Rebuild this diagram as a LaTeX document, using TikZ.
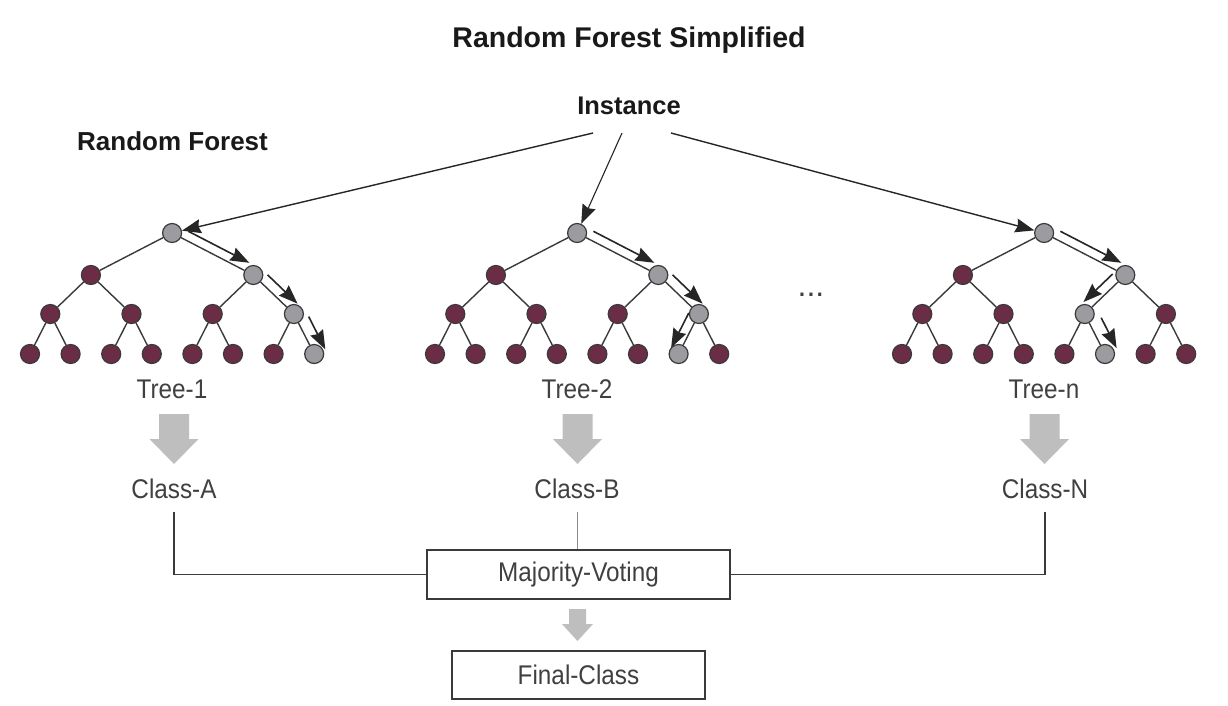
\documentclass[tikz,border=0pt]{standalone}
\usepackage{fontspec}
\setmainfont{Liberation Sans}
\newfontfamily\lightfont[FakeStretch=0.9]{Liberation Sans}
\usetikzlibrary{arrows.meta,calc}

\definecolor{maroon}{HTML}{6B2D45}
\definecolor{nodegrey}{HTML}{9C9CA0}
\definecolor{linegrey}{HTML}{3A3A3A}
\definecolor{fatgrey}{HTML}{BEBEBE}
\definecolor{txt}{HTML}{404040}

\tikzset{
  treenode/.style={circle, draw=linegrey, line width=1.2pt, fill=maroon, minimum size=19pt, inner sep=0pt},
  hit/.style={fill=nodegrey},
  edge/.style={draw=linegrey, line width=1.4pt},
  patharr/.style={draw=black!85, line width=1.6pt, -{Stealth[length=19pt,width=14pt,inset=2pt]}},
  instarr/.style={draw=black!85, line width=1.4pt, -{Stealth[length=19pt,width=14pt,inset=2pt]}},
  lbl/.style={font=\lightfont\fontsize{27}{30}\selectfont, text=txt, anchor=base, inner sep=0pt},
  hdr/.style={font=\bfseries\fontsize{26}{30}\selectfont, text=black!90, anchor=base, inner sep=0pt},
  votebox/.style={draw=linegrey, line width=1.4pt, fill=white, inner sep=0pt,
    font=\lightfont\fontsize{27}{30}\selectfont, text=txt},
  vote/.style={draw=linegrey, line width=1.3pt},
  votethin/.style={draw=black!45, line width=0.8pt},
  % grey (visited) nodes
  tar/.style={hit}, taa2/.style={hit}, tab4/.style={hit}, tac8/.style={hit},
  tbr/.style={hit}, tba2/.style={hit}, tbb4/.style={hit}, tbc7/.style={hit},
  tnr/.style={hit}, tna2/.style={hit}, tnb3/.style={hit}, tnc6/.style={hit},
}

% one binary tree of depth 3; #1 = name prefix, #2 = horizontal shift
\newcommand\rftree[2]{%
\begin{scope}[xshift=#2]
  \node[treenode,#1r/.try]  (#1r)  at (172.1,233) {};
  \node[treenode,#1a1/.try] (#1a1) at (90.9,275) {};
  \node[treenode,#1a2/.try] (#1a2) at (253.3,275) {};
  \node[treenode,#1b1/.try] (#1b1) at (50.3,314) {};
  \node[treenode,#1b2/.try] (#1b2) at (131.5,314) {};
  \node[treenode,#1b3/.try] (#1b3) at (212.7,314) {};
  \node[treenode,#1b4/.try] (#1b4) at (293.9,314) {};
  \node[treenode,#1c1/.try] (#1c1) at (30,354) {};
  \node[treenode,#1c2/.try] (#1c2) at (70.6,354) {};
  \node[treenode,#1c3/.try] (#1c3) at (111.2,354) {};
  \node[treenode,#1c4/.try] (#1c4) at (151.8,354) {};
  \node[treenode,#1c5/.try] (#1c5) at (192.4,354) {};
  \node[treenode,#1c6/.try] (#1c6) at (233,354) {};
  \node[treenode,#1c7/.try] (#1c7) at (273.6,354) {};
  \node[treenode,#1c8/.try] (#1c8) at (314.2,354) {};
  \draw[edge] (#1r) -- (#1a1) (#1r) -- (#1a2)
    (#1a1) -- (#1b1) (#1a1) -- (#1b2) (#1a2) -- (#1b3) (#1a2) -- (#1b4)
    (#1b1) -- (#1c1) (#1b1) -- (#1c2) (#1b2) -- (#1c3) (#1b2) -- (#1c4)
    (#1b3) -- (#1c5) (#1b3) -- (#1c6) (#1b4) -- (#1c7) (#1b4) -- (#1c8);
\end{scope}}

% arrow running parallel to an edge: from, to, side angle (measured from the
% backward direction: 270 = right-hand side, 90 = left-hand side), start frac, end frac, offset
\newcommand\pathstep[6]{%
  \draw[patharr] ($(#1)!#4!(#2)!#6!#3:(#1)$) -- ($(#1)!#5!(#2)!#6!#3:(#1)$);}

% broad grey arrow: x, top, head base, tip, shaft width, head width
\newcommand\fatarrow[6]{%
  \fill[fatgrey] ({#1-#5/2},#2) -- ({#1+#5/2},#2) -- ({#1+#5/2},#3) -- ({#1+#6/2},#3)
    -- (#1,#4) -- ({#1-#6/2},#3) -- ({#1-#5/2},#3) -- cycle;}

\begin{document}
\begin{tikzpicture}[x=1pt,y=-1pt]
  \useasboundingbox[fill=white] (0,0) rectangle (1228,706);

  % headings
  \node[hdr, font=\bfseries\fontsize{28.5}{32}\selectfont] (title) at (629,48) {Random Forest Simplified};
  \node[hdr, font=\bfseries\fontsize{25.5}{30}\selectfont] (inst) at (629,115) {Instance};
  \node[hdr, anchor=base west] (rf) at (77,150) {Random Forest};

  % trees
  \rftree{ta}{0}
  \rftree{tb}{405}
  \rftree{tn}{872}

  % instance arrows
  \coordinate (i1) at (593,133);
  \coordinate (i2) at (622,133);
  \coordinate (i3) at (671,133);
  \draw[instarr] (i1) -- (tar);
  \draw[instarr, line width=1.1pt] (i2) -- (tbr);
  \draw[instarr] (i3) -- (tnr);

  % decision paths
  \pathstep{tar}{taa2}{270}{0.15}{0.9}{9pt}
  \pathstep{taa2}{tab4}{270}{0.18}{0.92}{10pt}
  \pathstep{tab4}{tac8}{270}{0.2}{1.02}{12pt}
  \pathstep{tbr}{tba2}{270}{0.15}{0.9}{9pt}
  \pathstep{tba2}{tbb4}{270}{0.18}{0.92}{10pt}
  \pathstep{tbb4}{tbc7}{90}{0.08}{0.95}{9.5pt}
  \pathstep{tnr}{tna2}{270}{0.15}{0.9}{9pt}
  \pathstep{tna2}{tnb3}{90}{0.15}{0.87}{9.5pt}
  \pathstep{tnb3}{tnc6}{270}{0.24}{1.0}{13pt}

  % dots
  \node[anchor=base, inner sep=0pt, font=\fontsize{32}{34}\selectfont, text=txt] (dots) at (811,296) {...};

  % tree labels
  \node[lbl] (t1) at (172,398) {Tree-1};
  \node[lbl] (t2) at (577,398) {Tree-2};
  \node[lbl] (tn) at (1044,398) {Tree-n};

  % broad arrows
  \fatarrow{174}{414}{439}{464}{30}{49}
  \fatarrow{577.5}{414}{439}{464}{30}{49}
  \fatarrow{1044.5}{414}{439}{464}{30}{49}

  % class labels
  \node[lbl] (ca) at (174,498) {Class-A};
  \node[lbl] (cb) at (577,498) {Class-B};
  \node[lbl] (cn) at (1045,498) {Class-N};

  % voting boxes
  \node[votebox, minimum width=303pt, minimum height=49pt] (mv) at (578.5,574.5) {Majority-Voting};
  \node[votebox, minimum width=253pt, minimum height=48pt] (fc) at (578.5,675) {Final-Class};

  \draw[vote] ([yshift=-14pt]ca.base) |- (mv.west);
  \draw[vote] ([yshift=-14pt]cn.base) |- (mv.east);
  \draw[votethin] ([yshift=-14pt]cb.base) -- (mv.north -| cb.base);

  \fatarrow{577.5}{609}{624}{641}{17}{31}
\end{tikzpicture}
\end{document}
